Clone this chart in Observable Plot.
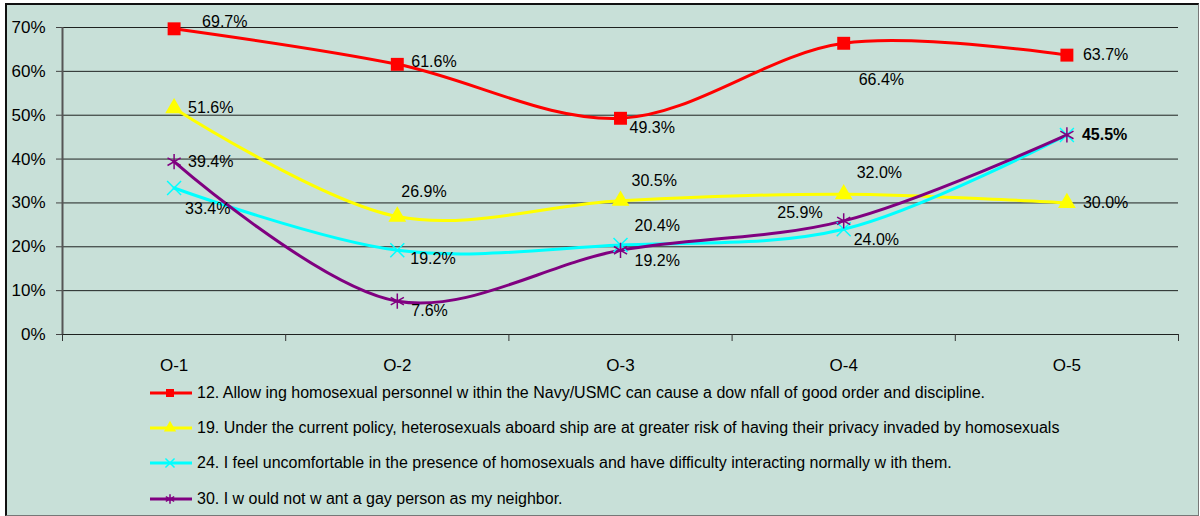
<!DOCTYPE html>
<html><head><meta charset="utf-8">
<script src="https://cdn.jsdelivr.net/npm/d3@7"></script>
<script src="https://cdn.jsdelivr.net/npm/@observablehq/plot@0.6"></script>
<style>
html,body{margin:0;padding:0;background:#fff;}
#page{position:relative;width:1200px;height:516px;overflow:hidden;font-family:"Liberation Sans",Arial,sans-serif;}
#frame{position:absolute;left:5px;top:3px;width:1191px;height:510px;background:#C8E0D8;border-left:2px solid #111;border-top:2px solid #111;border-right:1px solid #777;border-bottom:1px solid #777;}
#chart{position:absolute;left:0;top:0;}
#legend{position:absolute;left:148px;top:375px;}
.row{display:flex;align-items:center;height:35.3px;font-size:16px;color:#000;white-space:nowrap;}
.row svg{display:block;margin-right:3px;}
</style></head>
<body><div id="page"><div id="frame"></div><div id="chart"></div><div id="legend"></div></div>
<script>
// ---- data ----
const categories = ["O-1", "O-2", "O-3", "O-4", "O-5"];
const seriesNames = [
  "12. Allow ing homosexual personnel w ithin the Navy/USMC can cause a dow nfall of good order and discipline.",
  "19. Under the current policy, heterosexuals aboard ship are at greater risk of having their privacy invaded by homosexuals",
  "24. I feel uncomfortable in the presence of homosexuals and have difficulty interacting normally w ith them.",
  "30. I w ould not w ant a gay person as my neighbor."
];
const q12 = [69.7, 61.6, 49.3, 66.4, 63.7];
const q19 = [51.6, 26.9, 30.5, 32.0, 30.0];
const q24 = [33.4, 19.2, 20.4, 24.0, 45.5];
const q30 = [39.4, 7.6, 19.2, 25.9, 45.5];
const yTicks = [0, 10, 20, 30, 40, 50, 60, 70];

// ---- styles ----
const seriesList = [q12, q19, q24, q30];
const colors = ["#FF0000", "#FFFF00", "#00FFFF", "#800080"];
const symbols = ["square", "triangle", "times", "asterisk"];
const symbolR = [7.3, 6.6, 6.4, 7.2];
const filled = [true, true, false, false];
// label placement: [dx, dy, anchor, bold] per series / category (null = hidden)
const labelPlacement = [
  [[28, -7], [14, -2], [9, 10], [15, 37], [16, 0]],
  [[14, 0], [4, -25], [11, -20], [13, -21], [16, 0]],
  [[11, 21], [13, 9], [14, -19], [10, 11], null],
  [[14, 0], [14, 10], [14, 11], [-21, -8, "end"], [15, 0, "start", true]]
];

const marks = [];
marks.push(Plot.gridY({ticks: yTicks, stroke: "#000", strokeOpacity: 0.85}));
marks.push(Plot.axisY({ticks: yTicks, tickSize: 6, tickPadding: 11, tickFormat: d => d + "%", fontSize: 17, stroke: "#444", label: null}));
marks.push(Plot.axisX({ticks: d3.range(-0.5, categories.length, 1), tickSize: 7, tickFormat: () => "", stroke: "#333", label: null}));
marks.push(Plot.axisX({ticks: d3.range(categories.length), tickSize: 0, tickPadding: 24, tickFormat: i => categories[i], fontSize: 17, label: null}));
marks.push(Plot.ruleX([-0.5], {y1: 0, y2: 70, stroke: "#555", strokeWidth: 2}));

seriesList.forEach((vals, s) => {
  const data = vals.map((v, i) => ({i, v}));
  marks.push(Plot.line(data, {x: "i", y: "v", stroke: colors[s], strokeWidth: 3, curve: "catmull-rom"}));
});
seriesList.forEach((vals, s) => {
  const data = vals.map((v, i) => ({i, v}));
  marks.push(Plot.dot(data, filled[s]
    ? {x: "i", y: "v", symbol: symbols[s], r: symbolR[s], fill: colors[s], stroke: "none"}
    : {x: "i", y: "v", symbol: symbols[s], r: symbolR[s], stroke: colors[s], strokeWidth: 1.5}));
});
seriesList.forEach((vals, s) => {
  vals.forEach((v, i) => {
    const p = labelPlacement[s][i];
    if (!p) return;
    marks.push(Plot.text([{i, v}], {
      x: "i", y: "v", text: d => d.v.toFixed(1) + "%",
      dx: p[0], dy: p[1], textAnchor: p[2] || "start",
      fontWeight: p[3] ? "bold" : "normal", fontSize: 16, fill: "#000"
    }));
  });
});

const chart = Plot.plot({
  width: 1200, height: 380,
  marginLeft: 62, marginRight: 22, marginTop: 27, marginBottom: 46,
  x: {domain: [-0.5, categories.length - 0.5], label: null},
  y: {domain: [0, 70], label: null},
  style: {background: "transparent", fontFamily: "'Liberation Sans', Arial, sans-serif", color: "#000", overflow: "visible"},
  marks
});
document.getElementById("chart").appendChild(chart);

// legend
const legend = d3.select("#legend");
const legendR = [4.5, 4.6, 4.2, 4.6];
seriesNames.forEach((name, s) => {
  const row = legend.append("div").attr("class", "row");
  const svg = row.append("svg").attr("width", 46).attr("height", 20);
  svg.append("line").attr("x1", 2).attr("x2", 44).attr("y1", 10).attr("y2", 10)
    .attr("stroke", colors[s]).attr("stroke-width", 3);
  const symType = {square: d3.symbolSquare, triangle: d3.symbolTriangle, times: d3.symbolTimes, asterisk: d3.symbolAsterisk}[symbols[s]];
  svg.append("path").attr("transform", "translate(22,10)")
    .attr("d", d3.symbol(symType, Math.PI * legendR[s] * legendR[s])())
    .attr("fill", filled[s] ? colors[s] : "none")
    .attr("stroke", filled[s] ? "none" : colors[s]).attr("stroke-width", 1.5);
  row.append("span").text(name);
});
</script>
</body></html>
